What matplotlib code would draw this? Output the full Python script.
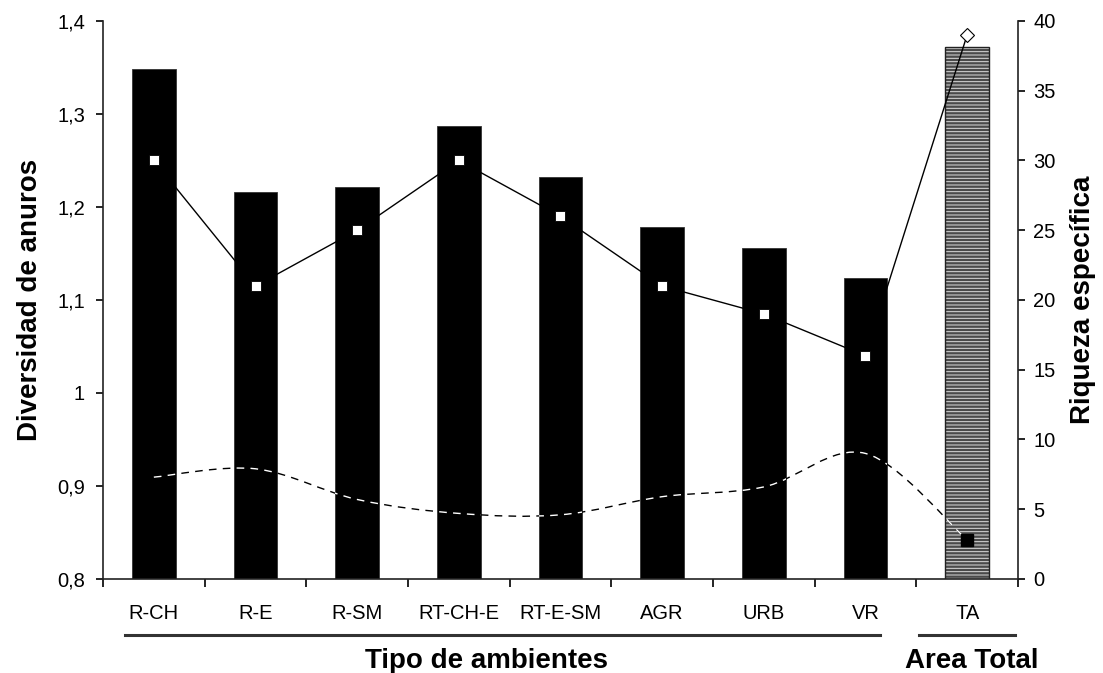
import numpy as np
import matplotlib
matplotlib.use("Agg")
import matplotlib.pyplot as plt
from matplotlib.path import Path
from matplotlib.patches import PathPatch

plt.rcParams['font.family'] = ['Liberation Sans', 'DejaVu Sans']
plt.rcParams['hatch.linewidth'] = 0.7

# datos
ambientes = ["R-CH", "R-E", "R-SM", "RT-CH-E", "RT-E-SM", "AGR", "URB", "VR", "TA"]
diversidad = [1.348, 1.216, 1.222, 1.287, 1.232, 1.178, 1.156, 1.124, 1.372]
riqueza = [30, 21, 25, 30, 26, 21, 19, 16, 39]
serie_punteada = [7.3, 7.9, 5.7, 4.7, 4.6, 5.9, 6.6, 9.0, 2.8]
yticks_izq = [0.8, 0.9, 1.0, 1.1, 1.2, 1.3, 1.4]
ylabels_izq = ["0,8", "0,9", "1", "1,1", "1,2", "1,3", "1,4"]
yticks_der = [0, 5, 10, 15, 20, 25, 30, 35, 40]

x = np.arange(len(ambientes))

fig = plt.figure(figsize=(11.03, 6.73), dpi=100)
ax = fig.add_axes([0.0934, 0.1397, 0.8295, 0.8291])
ax2 = ax.twinx()

# barras
barras = ax.bar(x[:-1], diversidad[:-1], width=0.43,
                color='black', edgecolor='#333333', linewidth=0.6, zorder=2)
ta_fondo = ax.bar(x[-1:], diversidad[-1:], width=0.43, color='#4a4a4a',
                  edgecolor='#dddddd', hatch='-----', linewidth=0, zorder=2)
ta_borde = ax.bar(x[-1:], diversidad[-1:], width=0.43, fill=False,
                  edgecolor='#222222', linewidth=1.0, zorder=3)

ax.set_xlim(-0.5, len(ambientes) - 0.5)
ax.set_ylim(0.8, 1.4)
ax.set_yticks(yticks_izq)
ax.set_yticklabels(ylabels_izq)
ax2.set_ylim(0, 40)
ax2.set_yticks(yticks_der)

# riqueza (linea continua)
ax2.plot(x, riqueza, color='black', lw=1.0, zorder=3)
ax2.plot(x[:-1], riqueza[:-1], 's', color='white', mec='black', mew=0.6,
         ms=6.5, zorder=5)
ax2.plot(x[-1:], riqueza[-1:], 'D', color='white', mec='black', mew=0.8,
         ms=7.5, zorder=5)

# serie suavizada (punteada)
pts = np.column_stack([x, serie_punteada]).astype(float)
ext = np.vstack([pts[0], pts, pts[-1]])
verts = [tuple(pts[0])]
codes = [Path.MOVETO]
for i in range(len(pts) - 1):
    p0, p1, p2, p3 = ext[i], ext[i + 1], ext[i + 2], ext[i + 3]
    c1 = p1 + (p2 - p0) / 6.0
    c2 = p2 - (p3 - p1) / 6.0
    verts += [tuple(c1), tuple(c2), tuple(p2)]
    codes += [Path.CURVE4] * 3
curva = Path(verts, codes)

negro = PathPatch(curva, fill=False, edgecolor='black', lw=1.0,
                  linestyle=(0, (5.5, 4.5)), transform=ax2.transData, zorder=4)
ax2.add_patch(negro)
for b in list(barras) + list(ta_fondo):
    blanco = PathPatch(curva, fill=False, edgecolor='white', lw=1.0,
                       linestyle=(0, (5.5, 4.5)), transform=ax2.transData,
                       zorder=4.5)
    ax2.add_patch(blanco)
    blanco.set_clip_path(b)
ax2.plot(x[-1:], serie_punteada[-1:], 's', color='black', ms=8, zorder=6)

# ejes
for a in (ax, ax2):
    a.spines['top'].set_visible(False)
    for s in ('left', 'right', 'bottom'):
        a.spines[s].set_linewidth(1.2)
        a.spines[s].set_color('#222222')
ax.spines['right'].set_visible(False)
ax2.spines['left'].set_visible(False)
ax2.spines['bottom'].set_visible(False)

ax.set_xticks(np.arange(-0.5, len(ambientes), 1.0))
ax.set_xticklabels([])
ax.set_xticks(x, minor=True)
ax.set_xticklabels(ambientes, minor=True, fontsize=14.5)
ax.tick_params(axis='x', which='major', direction='out', length=6, width=1.2)
ax.tick_params(axis='x', which='minor', length=0, pad=18)
ax.tick_params(axis='y', direction='out', length=5, width=1.2, labelsize=14.5,
               pad=8)
ax2.tick_params(axis='y', direction='out', length=5, width=1.2, labelsize=14.5,
                pad=6)

ax.set_ylabel("Diversidad de anuros", fontsize=20, fontweight='bold',
              labelpad=10)
ax2.set_ylabel("Riqueza específica", fontsize=20, fontweight='bold',
               labelpad=10)

# grupos del eje x
trans = ax.get_xaxis_transform()
ax.plot([-0.28, 7.14], [-0.1, -0.1], color='#333333', lw=2.2,
        transform=trans, clip_on=False)
ax.plot([7.53, 8.47], [-0.1, -0.1], color='#333333', lw=2.2,
        transform=trans, clip_on=False)
ax.text(3.27, -0.147, "Tipo de ambientes", transform=trans, ha='center',
        va='center', fontsize=20, fontweight='bold')
ax.text(8.05, -0.147, "Area Total", transform=trans, ha='center',
        va='center', fontsize=20, fontweight='bold')

fig.savefig("out.png", dpi=100)
